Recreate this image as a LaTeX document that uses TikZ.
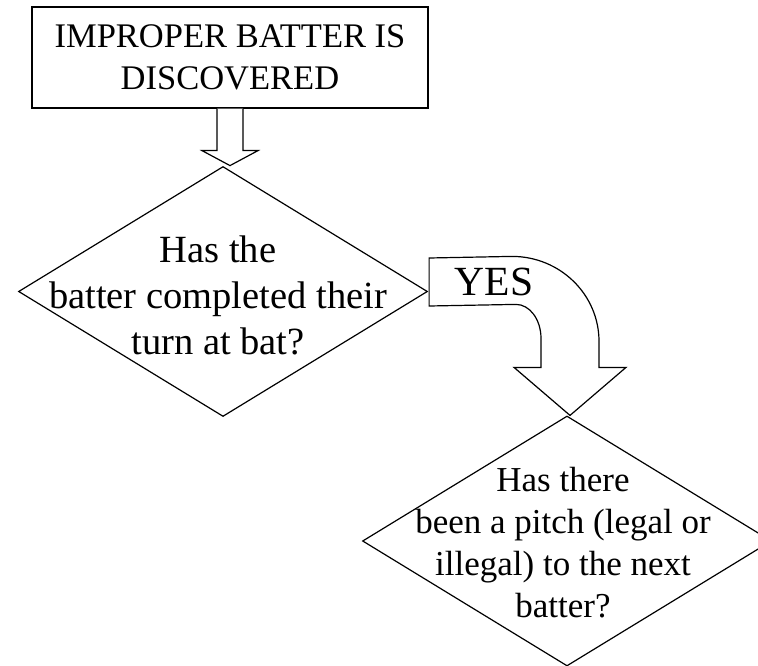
\documentclass[tikz,border=0pt]{standalone}
\usepackage{fontspec}
\setmainfont{Liberation Serif}
\usetikzlibrary{shapes.geometric,calc}

\tikzset{
  outline/.style={draw=black, line width=1.2pt, line join=miter},
  startbox/.style={outline, rectangle, minimum width=396pt, minimum height=101pt, inner sep=0pt,
    align=center, font=\fontsize{34.5}{42}\selectfont},
  decision/.style={outline, diamond, minimum width=409pt, minimum height=250pt, inner sep=0pt},
  blockarrow/.style={outline, fill=white},
}

\begin{document}
\begin{tikzpicture}[x=1pt, y=-1pt]
  \clip (0,0) rectangle (758,666);
  \fill[white] (0,0) rectangle (758,666);

  % start box
  \node[startbox] (start) at (230,57.5) {IMPROPER BATTER IS\\DISCOVERED};

  % first decision
  \node[decision] (d1) at (223,291.5) {};
  \node[align=center, font=\fontsize{38.5}{46}\selectfont] (q1) at ($(d1)+(-5,4)$)
    {Has the\\batter completed their\\turn at bat?};

  % second decision
  \node[decision] (d2) at (567,541) {};
  \node[align=center, font=\fontsize{35}{42}\selectfont] (q2) at ($(d2)+(-4,2)$)
    {Has there\\been a pitch (legal or\\illegal) to the next\\batter?};

  % straight block arrow from the box down to the first decision
  \coordinate (a1) at (start.south);
  \draw[blockarrow]
    ($(a1)+(-13,0)$) -- ($(a1)+(-13,42)$) -- ($(a1)+(-28,42)$) -- ($(a1)+(0,57)$)
    -- ($(a1)+(28,42)$) -- ($(a1)+(13,42)$) -- ($(a1)+(13,0)$);

  % bent block arrow (YES branch) from the first decision to the second
  \coordinate (b0) at ($(d1.east)+(1,0)$);
  \coordinate (b1) at ($(d2.north)+(3,0)$);
  \draw[blockarrow]
    ($(b0)+(0,-33.5)$) -- ($(b1)+(-58,-159)$)
    arc[start angle=-90, end angle=0, x radius=87, y radius=85]
    -- ($(b1)+(29,-48)$) -- ($(b1)+(56,-48)$) -- (b1) -- ($(b1)+(-56,-48)$)
    -- ($(b1)+(-29,-48)$) -- ($(b1)+(-29,-77)$)
    arc[start angle=0, end angle=-90, x radius=25, y radius=34]
    -- ($(b0)+(0,14.5)$) -- cycle;
  \node[font=\fontsize{41.5}{48}\selectfont, inner sep=0pt] (yes) at (494,282) {YES};
\end{tikzpicture}
\end{document}
